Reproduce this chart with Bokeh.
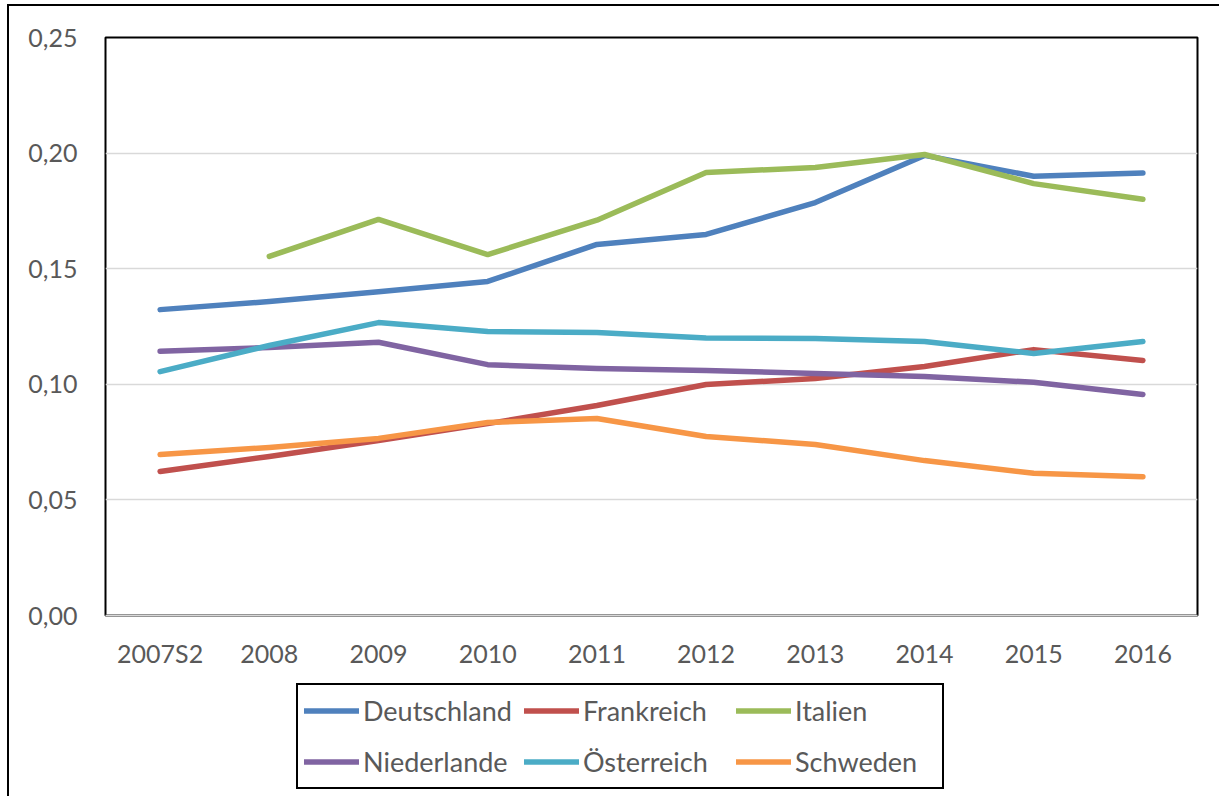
from bokeh.plotting import figure
from bokeh.models import Legend, LegendItem, FixedTicker, Range1d, FactorRange
from bokeh.layouts import column
from bokeh.embed import file_html
from bokeh.resources import INLINE
import numpy as np

categories = ["2007S2", "2008", "2009", "2010", "2011", "2012", "2013", "2014", "2015", "2016"]

deutschland = [0.1323, 0.1358, 0.1400, 0.1445, 0.1605, 0.1648, 0.1786, 0.1990, 0.1900, 0.1914]
frankreich  = [0.0623, 0.0688, 0.0757, 0.0830, 0.0908, 0.0999, 0.1025, 0.1077, 0.1150, 0.1103]
italien     = [np.nan, 0.1553, 0.1713, 0.1561, 0.1710, 0.1916, 0.1938, 0.1994, 0.1868, 0.1800]
niederlande = [0.1143, 0.1159, 0.1182, 0.1085, 0.1068, 0.1060, 0.1047, 0.1034, 0.1009, 0.0956]
oesterreich = [0.1055, 0.1168, 0.1267, 0.1228, 0.1224, 0.1200, 0.1198, 0.1185, 0.1133, 0.1185]
schweden    = [0.0696, 0.0727, 0.0766, 0.0835, 0.0852, 0.0774, 0.0740, 0.0670, 0.0615, 0.0600]

series_names = ["Deutschland", "Frankreich", "Italien", "Niederlande", "Österreich", "Schweden"]
series_values = [deutschland, frankreich, italien, niederlande, oesterreich, schweden]
series_colors = ["#4F81BD", "#C0504D", "#9BBB59", "#8064A2", "#4BACC6", "#F79646"]

ytick_vals = [0.0, 0.05, 0.10, 0.15, 0.20, 0.25]
ytick_labels = ["0,00", "0,05", "0,10", "0,15", "0,20", "0,25"]

FONT = "Lato"
TXT = "#595959"
FS = "25px"

p = figure(x_range=FactorRange(*categories, range_padding=0),
           y_range=Range1d(0, 0.25),
           width=1210, height=669,
           output_backend="svg", toolbar_location=None,
           min_border_left=96, min_border_top=31, min_border_right=22,
           min_border_bottom=60)

p.outline_line_color = "black"
p.outline_line_width = 2
p.background_fill_color = "white"
p.border_fill_color = "white"

p.xgrid.grid_line_color = None
p.ygrid.grid_line_color = "#D9D9D9"
p.ygrid.grid_line_width = 1.5

p.yaxis.ticker = FixedTicker(ticks=ytick_vals)
p.yaxis.major_label_overrides = {v: l for v, l in zip(ytick_vals, ytick_labels)}
p.yaxis.axis_line_color = None
p.yaxis.major_tick_line_color = None
p.yaxis.minor_tick_line_color = None
p.yaxis.major_label_standoff = 22

p.xaxis.axis_line_color = "#D9D9D9"
p.xaxis.axis_line_width = 1.5
p.xaxis.major_tick_line_color = None
p.xaxis.minor_tick_line_color = None
p.xaxis.major_label_standoff = 16

for ax in (p.xaxis, p.yaxis):
    ax.major_label_text_font = FONT
    ax.major_label_text_font_size = FS
    ax.major_label_text_color = TXT

for name, vals, col in zip(series_names, series_values, series_colors):
    p.line(categories, vals, line_color=col, line_width=5.5,
           line_cap="round", line_join="round")

# legend panel below the chart
lf = figure(width=1210, height=121, output_backend="svg", toolbar_location=None,
            x_range=Range1d(0, 1), y_range=Range1d(0, 1),
            x_axis_location=None, y_axis_location=None,
            min_border_left=0, min_border_right=0, min_border_top=0,
            min_border_bottom=0)
lf.outline_line_color = None
lf.xgrid.grid_line_color = None
lf.ygrid.grid_line_color = None
lf.border_fill_color = "white"

items = []
for name, col in zip(series_names, series_colors):
    # proxy renderer kept outside the visible range; only its legend glyph shows
    r = lf.line(x=[-5, -4], y=[-5, -5], line_color=col, line_width=5.5, line_cap="round")
    items.append(LegendItem(label=name, renderers=[r]))

legend = Legend(items=items, orientation="horizontal", ncols=3,
                location=(191, 7))
legend.label_text_font = FONT
legend.label_text_font_size = "27px"
legend.label_text_color = TXT
legend.border_line_color = "black"
legend.border_line_alpha = 1.0
legend.border_line_width = 2
legend.background_fill_alpha = 1.0
legend.glyph_width = 55
legend.glyph_height = 39
legend.label_height = 39
legend.label_width = 141
legend.label_standoff = 4
legend.spacing = 12
legend.padding = 6
legend.margin = 0
lf.add_layout(legend, "center")

layout = column(p, lf, spacing=0)
layout.styles = {"border-left": "2px solid black", "border-top": "2px solid black",
                 "margin-left": "7px", "margin-top": "4px"}

open("out.html", "w").write(file_html(layout, INLINE))
